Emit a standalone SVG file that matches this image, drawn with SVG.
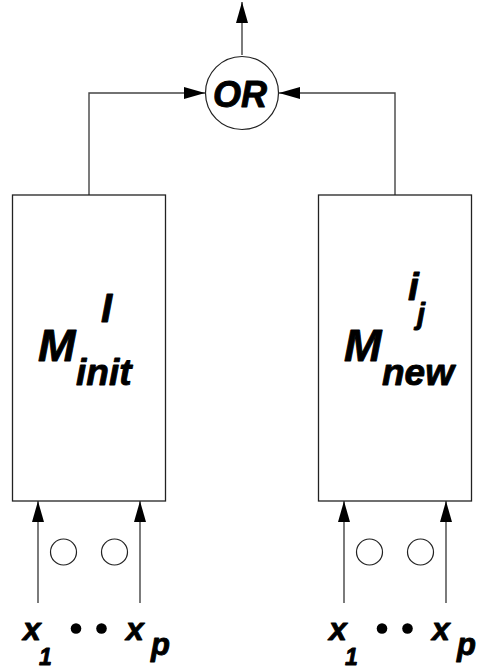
<svg xmlns="http://www.w3.org/2000/svg" width="478" height="671" viewBox="0 0 478 671">
<style>
.ln{fill:none;stroke:#444;stroke-width:1.4}
.bx{fill:#fff;stroke:#222;stroke-width:1.3}
.c{fill:#fff;stroke:#222;stroke-width:1.2}
.t{font-family:"Liberation Sans",Arial,sans-serif;font-weight:bold;font-style:italic;fill:#000;stroke:#000;stroke-width:0.9;stroke-linejoin:round}
</style>
<defs>
<marker id="ah" viewBox="0 0 21 12" refX="21" refY="6" markerWidth="21" markerHeight="12" markerUnits="userSpaceOnUse" orient="auto">
<path d="M0,0 L21,6 L0,12 Z" fill="#000"/>
</marker>
</defs>
<rect width="478" height="671" fill="#fff"/>
<g id="connectors">
<line class="ln" x1="242" y1="55" x2="242" y2="2" marker-end="url(#ah)"/>
<polyline class="ln" points="89,195 89,93 205,93" marker-end="url(#ah)"/>
<polyline class="ln" points="395,195 395,93 279,93" marker-end="url(#ah)"/>
<line class="ln" x1="38" y1="603" x2="38" y2="501" marker-end="url(#ah)"/>
<line class="ln" x1="140" y1="603" x2="140" y2="501" marker-end="url(#ah)"/>
<line class="ln" x1="344" y1="603" x2="344" y2="501" marker-end="url(#ah)"/>
<line class="ln" x1="446" y1="603" x2="446" y2="501" marker-end="url(#ah)"/>
</g>
<g id="or">
<circle class="c" cx="242" cy="93" r="36.5"/>
<text class="t" x="240" y="106.5" font-size="36" text-anchor="middle">OR</text>
</g>
<g id="m-init">
<rect class="bx" x="12.5" y="195" width="153" height="306"/>
<text class="t" x="38" y="361" font-size="45">M</text>
<text class="t" x="101" y="322" font-size="40">I</text>
<text class="t" x="76" y="385" font-size="37">init</text>
</g>
<g id="m-new">
<rect class="bx" x="318.5" y="195" width="153" height="306"/>
<text class="t" x="344" y="361" font-size="45">M</text>
<text class="t" x="408" y="300" font-size="39">i</text>
<text class="t" x="417" y="324" font-size="29">j</text>
<text class="t" x="382" y="385" font-size="37">new</text>
</g>
<g id="inputs-left">
<circle class="c" cx="63.5" cy="552" r="13"/>
<circle class="c" cx="114.5" cy="552" r="13"/>
<text class="t" x="23" y="640" font-size="32">x</text>
<text class="t" x="39" y="665" font-size="23">1</text>
<circle cx="76" cy="628.5" r="5.3" fill="#000"/>
<circle cx="101.5" cy="628.5" r="5.3" fill="#000"/>
<text class="t" x="126" y="640" font-size="32">x</text>
<text class="t" x="151" y="655" font-size="31">p</text>
</g>
<g id="inputs-right">
<circle class="c" cx="369.5" cy="552" r="13"/>
<circle class="c" cx="420.5" cy="552" r="13"/>
<text class="t" x="329" y="640" font-size="32">x</text>
<text class="t" x="345" y="665" font-size="23">1</text>
<circle cx="382" cy="628.5" r="5.3" fill="#000"/>
<circle cx="407.5" cy="628.5" r="5.3" fill="#000"/>
<text class="t" x="432" y="640" font-size="32">x</text>
<text class="t" x="457" y="655" font-size="31">p</text>
</g>
</svg>
